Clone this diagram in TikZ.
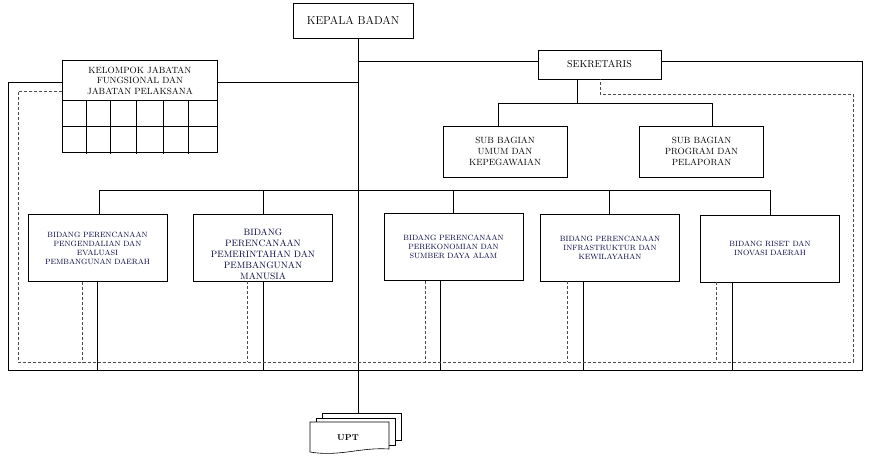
\documentclass[tikz,border=0pt]{standalone}
\usepackage{tikz}
\usetikzlibrary{positioning}
\usetikzlibrary{calc}
\tikzstyle{unit} = [draw, thick, align=center, inner sep=1pt]
\tikzstyle{bidang} = [unit, minimum width=139pt, minimum height=67pt, font=\fontsize{7.6}{9}\selectfont, text=blue!25!black]
\tikzstyle{sub} = [unit, minimum width=124pt, minimum height=51pt, font=\fontsize{9}{11}\selectfont]
\tikzstyle{line} = [semithick]
\tikzstyle{coord} = [densely dashed, semithick, gray!60!black]
\tikzstyle{doc} = [draw, semithick, fill=white]
\begin{document}
\begin{tikzpicture}[x=1pt, y=-1pt]
        \useasboundingbox (0,0) rectangle (869,464);

        % top level
        \node [unit, minimum width=120pt, minimum height=35pt, font=\fontsize{11.5}{13}\selectfont] (kepala) at (353,20.5) {KEPALA BADAN};
        \node [unit, minimum width=123pt, minimum height=29pt, font=\fontsize{10}{12}\selectfont] (sekretaris) at (599.5,64.5) {SEKRETARIS};

        % kelompok jabatan with grid
        \node [unit, minimum width=155pt, minimum height=40pt, anchor=north west, font=\fontsize{9}{10.5}\selectfont, text depth=0pt] (kelompok) at (62,60) {KELOMPOK JABATAN\\FUNGSIONAL DAN\\JABATAN PELAKSANA};
        \fill [white] (63,100.6) rectangle (216,104);
        \draw [thick] (62,100) rectangle (217,152);
        \draw [thick] (62,126) -- (217,126);
        \foreach \x in {86, 110, 136, 163, 188}
        {
            \draw [thick] (\x,100) -- (\x,154);
        }

        % sub bagian
        \node [sub] (umum) at (505,151.5) {SUB BAGIAN\\UMUM DAN\\KEPEGAWAIAN};
        \node [sub] (program) at (701.5,151.5) {SUB BAGIAN\\PROGRAM DAN\\PELAPORAN};

        % bidang
        \node [bidang] (b1) at (97.5,248) {BIDANG PERENCANAAN\\PENGENDALIAN DAN\\EVALUASI\\PEMBANGUNAN DAERAH};
        \node [bidang] (b2) at (263,247.5) {};
        \node [font=\fontsize{9.2}{11}\selectfont, align=center, text=blue!25!black] (b2t) at (263,254) {BIDANG\\PERENCANAAN\\PEMERINTAHAN DAN\\PEMBANGUNAN\\MANUSIA};
        \fill [white] (193,282) rectangle (333,292);
        \draw [thick] (b2.south west) -- (b2.south east);
        \node [bidang] (b3) at (453.5,247) {BIDANG PERENCANAAN\\PEREKONOMIAN DAN\\SUMBER DAYA ALAM};
        \node [bidang] (b4) at (610,247.5) {BIDANG PERENCANAAN\\INFRASTRUKTUR DAN\\KEWILAYAHAN};
        \node [bidang] (b5) at (770,248.5) {BIDANG RISET DAN\\INOVASI DAERAH};

        % UPT
        \node [doc, minimum width=79pt, minimum height=27pt] (upt3) at (361.5,426.5) {};
        \node [doc, minimum width=79pt, minimum height=27pt] (upt2) at (355.5,431.5) {};
        \draw [doc] (310,422) -- (389,422) -- (389,449)
              .. controls (360,447) and (340,457) .. (310,452) -- cycle;
        \node [font=\bfseries\fontsize{8.5}{10}\selectfont] (upt) at (348,438) {UPT};

        % command lines
        \coordinate (spine) at (358,412);
        \draw [line] (kepala.south -| spine) -- (upt3.north -| spine);
        \draw [line] (kelompok.east |- 0,82) -- (358,82);
        \draw [line] (358,61) -- (sekretaris.west |- 0,61);
        \draw [line] (sekretaris.south -| 577,0) -- (577,103);
        \draw [line] (umum.north -| 498,0) -- (498,103) -- (712,103) -- (program.north -| 712,0);
        \draw [line] (b1.north -| 99,0) -- (99,190) -- (770,190) -- (b5.north);
        \foreach \b/\x in {b2/263, b3/453, b4/609}
        {
            \draw [line] (\b.north -| \x,0) -- (\x,190);
        }

        % outer solid frame
        \draw [line] (kelompok.west |- 0,82) -- (8,82) -- (8,370) -- (862,370) -- (862,61) -- (sekretaris.east |- 0,61);
        \foreach \b/\x in {b1/97, b2/263, b3/440, b4/583, b5/732}
        {
            \draw [line] (\b.south -| \x,0) -- (\x,370);
        }

        % coordination lines
        \draw [coord] (kelompok.west |- 0,91) -- (18,91) -- (18,362) -- (853,362) -- (853,94) -- (600,94) -- (sekretaris.south -| 600,0);
        \foreach \b/\x in {b1/82, b2/247, b3/425, b4/567, b5/716}
        {
            \draw [coord] (\b.south -| \x,0) -- (\x,362);
        }
\end{tikzpicture}
\end{document}
